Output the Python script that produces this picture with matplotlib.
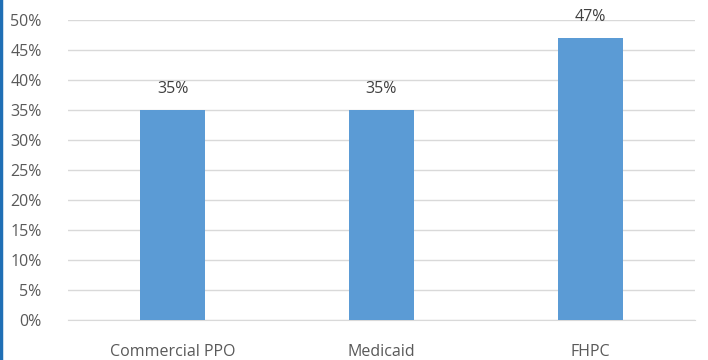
import numpy as np
import matplotlib.pyplot as plt

categories = ['Commercial PPO', 'Medicaid', 'FHPC']
values = [35, 35, 47]
yticks = [0, 5, 10, 15, 20, 25, 30, 35, 40, 45, 50]

plt.rcParams['font.family'] = ['Open Sans', 'DejaVu Sans']

fig = plt.figure(figsize=(7.08, 3.6), dpi=100)
ax = fig.add_axes([68/708, 1 - 320/360, 627/708, 300/360])

x = np.arange(len(categories))
bars = ax.bar(x, values, width=0.31, color='#5B9BD5', zorder=3)

for xi, v in zip(x, values):
    ax.text(xi, v + 2.2, f'{v}%', ha='center', va='bottom',
            fontsize=11.5, color='#404040')

ax.set_xlim(-0.5, 2.5)
ax.set_ylim(0, 50)
ax.set_yticks(yticks)
ax.set_yticklabels([f'{t}%' for t in yticks], fontsize=11.5, color='#595959')
ax.set_xticks(x)
ax.set_xticklabels(categories, fontsize=11.5, color='#595959')
ax.tick_params(axis='both', length=0)
ax.tick_params(axis='y', pad=19)
ax.tick_params(axis='x', pad=17)

ax.yaxis.grid(True, color='#D9D9D9', linewidth=1, zorder=0)
for s in ['top', 'right', 'left']:
    ax.spines[s].set_visible(False)
ax.spines['bottom'].set_color('#D9D9D9')

# blue frame on the left edge
fig.add_artist(plt.Line2D([0.002, 0.002], [0, 1], color='#1F6FB5',
                          linewidth=2.5, transform=fig.transFigure))

fig.savefig('out.png', dpi=100)
